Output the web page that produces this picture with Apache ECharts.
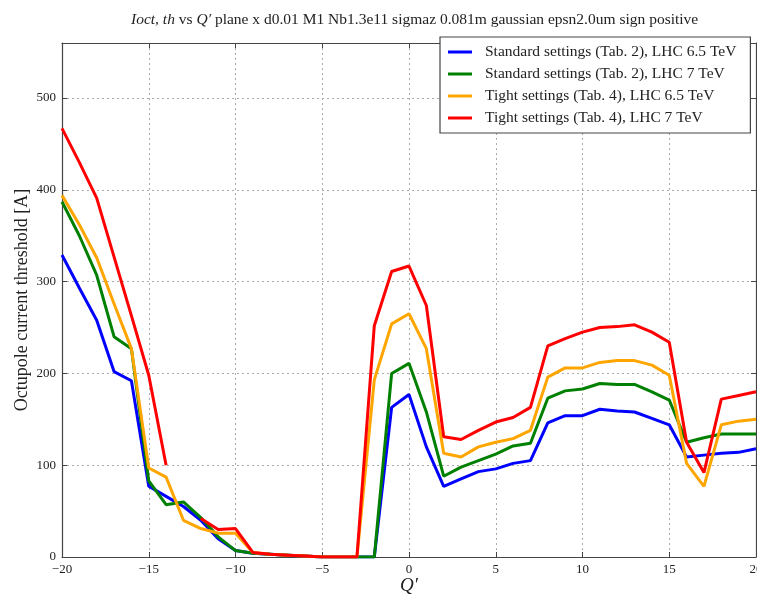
<!DOCTYPE html>
<html>
<head>
<meta charset="utf-8">
<script src="https://cdn.jsdelivr.net/npm/echarts@6/dist/echarts.min.js"></script>
<style>html,body{margin:0;padding:0;background:#fff;}#c{width:757px;height:598px;}</style>
</head>
<body>
<div id="c"></div>
<script>
const qPrime = [-20,-19,-18,-17,-16,-15,-14,-13,-12,-11,-10,-9,-8,-7,-6,-5,-4,-3,-2,-1,0,1,2,3,4,5,6,7,8,9,10,11,12,13,14,15,16,17,18,19,20];
const std65 = [329,293,258,202,192,77,66,55,40,20,7,4,3,2,1,0,0,0,0,163,177,120,77,85,93,96,102,105,146,154,154,161,159,158,151,144,109,111,113,114,118];
const std7 = [387,350,307,240,227,83,57,60,43,22,7,4,3,2,1,0,0,0,0,200,211,158,88,98,105,112,121,124,173,181,183,189,188,188,180,171,125,130,134,134,134];
const tight65 = [394,362,326,276,227,97,87,40,31,26,26,5,3,2,1,0,0,0,193,254,265,227,113,109,120,125,129,138,196,206,206,212,214,214,209,198,102,77,144,148,150];
const tight7 = [467,430,391,327,263,198,100,null,42,30,31,5,3,2,1,0,0,0,252,311,317,274,131,128,138,147,152,163,230,238,245,250,251,253,245,234,125,92,172,176,180];
const seriesNames = ['Standard settings (Tab. 2), LHC 6.5 TeV','Standard settings (Tab. 2), LHC 7 TeV','Tight settings (Tab. 4), LHC 6.5 TeV','Tight settings (Tab. 4), LHC 7 TeV'];
const seriesColors = ['#0000ff','#008000','#ffa500','#ff0000'];
const xTicks = [-20,-15,-10,-5,0,5,10,15,20];
const yTicks = [0,100,200,300,400,500];

const serif = '"Liberation Serif","DejaVu Serif",serif';
const chart = echarts.init(document.getElementById('c'));
const allData = [std65, std7, tight65, tight7];
const series = allData.map((arr, i) => ({
  name: seriesNames[i],
  type: 'line',
  xAxisIndex: 0, yAxisIndex: 0,
  data: arr.map((v, k) => [qPrime[k], v]),
  showSymbol: false,
  symbol: 'none',
  connectNulls: false,
  lineStyle: {width: 3, color: seriesColors[i]},
  itemStyle: {color: seriesColors[i]},
  z: 2 + i
}));

const axisCommon = {
  axisLine: {show: true, onZero: false, lineStyle: {color: '#444', width: 1.2}},
  axisTick: {show: true, inside: true, length: 5, lineStyle: {color: '#444'}},
};

chart.setOption({
  animation: false,
  backgroundColor: '#fff',
  title: {
    text: '{i|Ioct, th} vs {i|Q′} plane x d0.01 M1 Nb1.3e11 sigmaz 0.081m gaussian epsn2.0um sign positive',
    left: 126, top: 7,
    textStyle: {
      fontFamily: serif, fontSize: 15.5, fontWeight: 'normal', color: '#222',
      rich: {i: {fontFamily: serif, fontStyle: 'italic', fontSize: 15.5, color: '#222'}}
    }
  },
  legend: {
    orient: 'vertical',
    left: 440, top: 37,
    padding: [7, 14, 7, 8],
    itemGap: 6,
    itemWidth: 24, itemHeight: 3,
    icon: 'rect',
    borderColor: '#444', borderWidth: 1.2,
    backgroundColor: '#fff',
    textStyle: {fontFamily: serif, fontSize: 15.5, color: '#222', padding: [0,0,0,8]},
    data: seriesNames
  },
  grid: {left: 62, right: 1, top: 43, bottom: 41, show: false, outerBoundsMode: 'none', containLabel: false},
  xAxis: [{
    type: 'value', min: -20, max: 20, interval: 5, position: 'bottom',
    name: 'Q′', nameLocation: 'middle', nameGap: 19, nameMoveOverlap: false,
    nameTextStyle: {fontFamily: serif, fontStyle: 'italic', fontSize: 19, color: '#222'},
    axisLabel: {fontFamily: serif, fontSize: 13, color: '#222', margin: 6,
      formatter: v => xTicks.includes(v) ? (v < 0 ? '−' + Math.abs(v) : String(v)) : ''},
    splitLine: {show: true, lineStyle: {type: [2, 3], color: '#aaa', width: 1}},
    ...axisCommon
  }, {
    type: 'value', min: -20, max: 20, interval: 5, position: 'top',
    axisLabel: {show: false}, splitLine: {show: false},
    ...axisCommon
  }],
  yAxis: [{
    type: 'value', min: 0, max: 560, interval: 100, position: 'left',
    name: 'Octupole current threshold [A]', nameLocation: 'middle', nameGap: 31, nameMoveOverlap: false,
    nameTextStyle: {fontFamily: serif, fontSize: 18, color: '#222'},
    axisLabel: {fontFamily: serif, fontSize: 13, color: '#222', margin: 6,
      showMaxLabel: false,
      formatter: v => yTicks.includes(v) ? String(v) : ''},
    splitLine: {show: true, lineStyle: {type: [2, 3], color: '#aaa', width: 1}},
    ...axisCommon
  }, {
    type: 'value', min: 0, max: 560, interval: 100, position: 'right',
    axisLabel: {show: false}, splitLine: {show: false},
    ...axisCommon
  }],
  series: series
});
</script>
</body>
</html>
